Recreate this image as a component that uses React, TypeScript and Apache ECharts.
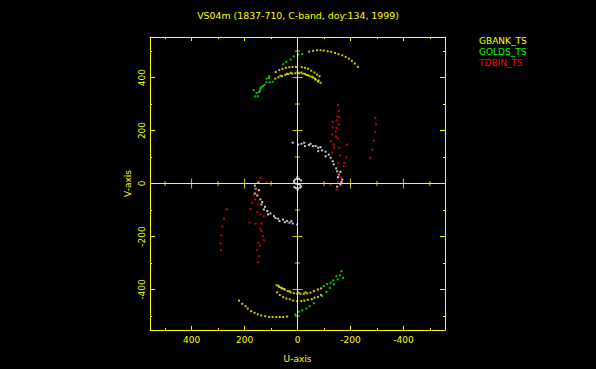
import React, { useEffect, useRef } from "react";
import * as echarts from "echarts";

const TITLE = "VS04m (1837-710, C-band, doy:134, 1999)";
const SERIES_NAMES = ["GBANK_TS", "GOLDS_TS", "TDBIN_TS"];
const SERIES_COLORS = ["#ffff00", "#00ff00", "#ff0000"];
const AXIS_COLOR = "#ffff00";

const majorTicks = [-400, -200, 0, 200, 400];
const minorTicks = [-500, -300, -100, 100, 300, 500];
const crossMajor = [-400, -200, 200, 400];
const crossMinor = [-500, -300, -100, 100, 300, 500];

// GBANK_TS (yellow)
const gbankUpperOuter = [[-44,498],[-59,501],[-74,503],[-87,503],[-99,502],[-114,499],[-127,497],[-142,493],[-155,488],[-169,484],[-182,478],[-194,471],[-205,463],[-216,453],[-228,440]];
const gbankUpperMid = [[82,421],[69,428],[57,433],[44,437],[31,439],[19,440],[6,440],[-16,439],[-28,437],[-40,433],[-52,426],[-64,419],[-74,411],[-83,405]];
const gbankUpperInner = [[84,396],[72,401],[58,405],[46,410],[34,413],[20,415],[8,416],[-6,416],[-20,415],[-33,410],[-46,405],[-59,400],[-69,392],[-77,385],[-87,380],[64,407],[40,414],[26,418],[0,420],[-14,419],[-28,414],[-40,409],[-54,403],[-66,396],[-80,389]];
const gbankLowerOuter = [[221,-442],[209,-454],[196,-463],[188,-472],[175,-482],[162,-488],[150,-494],[137,-498],[122,-501],[107,-504],[94,-504],[80,-504],[67,-504],[54,-504],[39,-502]];
const gbankLowerMid = [[77,-411],[67,-421],[54,-429],[42,-434],[29,-437],[16,-442],[1,-444],[-14,-444],[-26,-442],[-39,-439],[-54,-437],[-64,-431],[-77,-428],[-89,-421]];
const gbankLowerInner = [[79,-384],[69,-391],[58,-396],[48,-401],[37,-406],[26,-411],[14,-414],[1,-416],[-11,-416],[-24,-416],[-37,-415],[-49,-412],[-62,-406],[-77,-400],[-89,-396],[72,-386],[62,-393],[52,-398],[30,-407],[-4,-412],[-30,-411]];

// GOLDS_TS (green)
const goldsUpperOuter = [[161,329],[155,342],[142,351],[137,363],[117,382],[107,405],[117,396],[108,398],[54,450],[42,459],[26,468],[14,480],[-3,487],[-18,489]];
const goldsUpperInner = [[150,329],[165,352],[131,367],[105,382],[94,384],[145,345],[125,372],[140,358]];
const goldsLowerOuter = [[8,-494],[-5,-484],[-18,-479],[-34,-472],[-46,-463],[-62,-452],[-93,-425],[-109,-409],[-122,-394],[-137,-381],[-152,-362],[-166,-331]];
const goldsLowerInner = [[-99,-387],[-112,-379],[-125,-375],[-135,-366],[-147,-350],[-160,-346],[-172,-356]];

// TDBIN_TS (red)
const tdbinUpper = [[-153,296],[-156,273],[-151,253],[-158,250],[-147,238],[-133,233],[-156,223],[-147,210],[-133,212],[-145,197],[-131,185],[-145,177],[-152,170],[-137,147],[-127,160],[-138,135],[-158,135],[-131,117],[-187,147],[-184,99],[-177,78],[-175,65],[-160,106],[-152,78],[-156,37],[-162,24],[-153,6],[-147,-23],[-125,-6],[-166,-8]];
const tdbinUpperFar = [[-294,248],[-297,223],[-293,194],[-288,162],[-283,128],[-275,97]];
const tdbinLower = [[140,22],[146,9],[117,5],[158,-23],[165,-42],[171,-73],[177,-96],[148,-79],[152,-108],[140,-117],[127,-123],[181,-148],[158,-152],[136,-151],[140,-171],[136,-180],[131,-199],[127,-214],[148,-224],[142,-234],[152,-252],[146,-274],[148,-297],[160,-60],[150,-40]];
const tdbinLowerFar = [[267,-98],[278,-133],[284,-163],[288,-196],[291,-226],[289,-252]];

// short baselines (white)
const whiteUpper = [[18,154],[-3,147],[-15,150],[-25,154],[-28,141],[-43,145],[-49,150],[-58,141],[-68,141],[-78,135],[-87,137],[-78,122],[-93,125],[-106,120],[-106,103],[-118,109],[-125,97],[-133,84],[-137,72],[-146,57],[-150,46],[-156,34],[-162,44],[-153,24],[-166,6],[-169,15],[-150,-12],[-162,-4]];
const whiteLower = [[161,-8],[148,3],[158,-20],[146,-25],[161,-38],[152,-45],[140,-60],[133,-70],[136,-79],[123,-88],[127,-98],[114,-104],[111,-117],[102,-113],[89,-123],[83,-130],[73,-133],[68,-142],[55,-136],[48,-146],[39,-142],[30,-148],[23,-142],[18,-151],[1,-155]];
const whiteCenter = [[-13,12],[-6,17],[2,18],[9,15],[13,9],[12,2],[5,-1],[-3,-2],[-10,-5],[-14,-11],[-10,-16],[-2,-19],[6,-17],[12,-13],[0,24],[0,-25]];

export default function App() {
  const ref = useRef<HTMLDivElement>(null);
  useEffect(() => {
    document.body.style.margin = "0";
    document.body.style.background = "#000";
    const chart = echarts.init(ref.current!, null, { renderer: "svg" });
    const font = "DejaVu Sans";
    const xMin = -557, xMax = 557, yMin = -553, yMax = 553;
    const mkX = (position: string, ticks: number[], len: number, main: boolean) => ({
      type: "value", position, min: xMin, max: xMax, inverse: true,
      splitLine: { show: false },
      axisLine: { show: main, onZero: false, lineStyle: { color: AXIS_COLOR, width: 1 } },
      axisTick: { show: true, inside: true, length: len, customValues: ticks, lineStyle: { color: AXIS_COLOR, width: 1 } },
      axisLabel: main && position === "bottom"
        ? { show: true, customValues: majorTicks, color: AXIS_COLOR, fontSize: 9, fontFamily: font, margin: 5 }
        : { show: false },
      name: main && position === "bottom" ? "U-axis" : "",
      nameLocation: "middle", nameGap: 24,
      nameTextStyle: { color: AXIS_COLOR, fontSize: 9, fontFamily: font },
    });
    const mkY = (position: string, ticks: number[], len: number, main: boolean) => ({
      type: "value", position, min: yMin, max: yMax,
      splitLine: { show: false },
      axisLine: { show: main, onZero: false, lineStyle: { color: AXIS_COLOR, width: 1 } },
      axisTick: { show: true, inside: true, length: len, customValues: ticks, lineStyle: { color: AXIS_COLOR, width: 1 } },
      axisLabel: main && position === "left"
        ? { show: true, customValues: majorTicks, color: AXIS_COLOR, fontSize: 9, fontFamily: font, margin: 4, rotate: 90 }
        : { show: false },
      name: main && position === "left" ? "V-axis" : "",
      nameLocation: "middle", nameGap: 18, nameRotate: 90,
      nameTextStyle: { color: AXIS_COLOR, fontSize: 9, fontFamily: font },
    });
    const dot = (name: string, color: string, data: number[][]) => ({
      name, type: "scatter", data, symbol: "rect", symbolSize: 2,
      itemStyle: { color }, silent: true, xAxisIndex: 0, yAxisIndex: 0,
    });
    const crossData = [
      ...crossMajor.map((u) => ({ value: [u, 0], symbolSize: [1, 10] })),
      ...crossMinor.map((u) => ({ value: [u, 0], symbolSize: [1, 5] })),
      ...crossMajor.map((v) => ({ value: [0, v], symbolSize: [10, 1] })),
      ...crossMinor.map((v) => ({ value: [0, v], symbolSize: [5, 1] })),
    ];
    chart.setOption({
      animation: false,
      backgroundColor: "#000",
      title: {
        text: TITLE, left: "center", top: 6,
        textStyle: { color: AXIS_COLOR, fontSize: 9.4, fontWeight: "normal", fontFamily: font },
      },
      legend: {
        orient: "vertical", left: 469, top: 31, itemGap: 2,
        itemWidth: 0, itemHeight: 0, icon: "rect", selectedMode: false,
        textStyle: { fontSize: 9, fontFamily: font },
        data: SERIES_NAMES.map((n, i) => ({ name: n, textStyle: { color: SERIES_COLORS[i] } })),
      },
      grid: { left: 150, right: 151, top: 37, bottom: 39, containLabel: false },
      xAxis: [
        mkX("bottom", majorTicks, 4, true),
        mkX("bottom", minorTicks, 2, false),
        mkX("top", majorTicks, 4, true),
        mkX("top", minorTicks, 2, false),
      ],
      yAxis: [
        mkY("left", majorTicks, 5, true),
        mkY("left", minorTicks, 2, false),
        mkY("right", majorTicks, 5, true),
        mkY("right", minorTicks, 2, false),
      ],
      series: [
        {
          name: "cross", type: "scatter", symbol: "rect", data: crossData, silent: true,
          itemStyle: { color: AXIS_COLOR }, xAxisIndex: 0, yAxisIndex: 0,
          markLine: {
            silent: true, symbol: ["none", "none"], label: { show: false },
            lineStyle: { color: AXIS_COLOR, type: "solid", width: 1 },
            data: [{ xAxis: 0 }, { yAxis: 0 }],
          },
        },
        dot("short", "#ffffff", [...whiteUpper, ...whiteLower, ...whiteCenter]),
        dot(SERIES_NAMES[0], SERIES_COLORS[0], [...gbankUpperOuter, ...gbankUpperMid, ...gbankUpperInner, ...gbankLowerOuter, ...gbankLowerMid, ...gbankLowerInner]),
        dot(SERIES_NAMES[1], SERIES_COLORS[1], [...goldsUpperOuter, ...goldsUpperInner, ...goldsLowerOuter, ...goldsLowerInner]),
        dot(SERIES_NAMES[2], SERIES_COLORS[2], [...tdbinUpper, ...tdbinUpperFar, ...tdbinLower, ...tdbinLowerFar]),
      ],
    });
    return () => chart.dispose();
  }, []);
  return <div ref={ref} style={{ width: 596, height: 369, background: "#000" }} />;
}
